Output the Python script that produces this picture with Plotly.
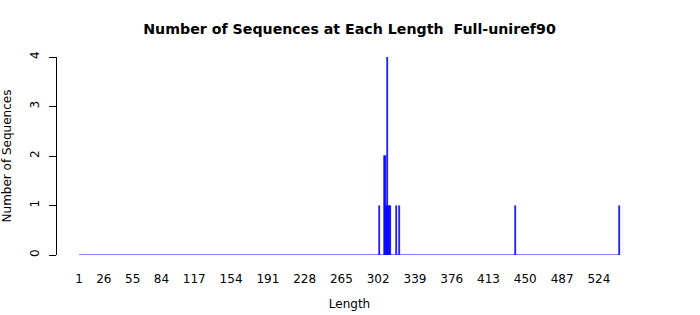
import plotly.graph_objects as go

# Data
lengths = [303, 308, 309, 310, 311, 312, 313, 314, 320, 323, 440, 545]
counts = [1, 2, 2, 1, 4, 1, 1, 1, 1, 1, 1, 1]
min_length = 1
tick_labels = [1, 26, 55, 84, 117, 154, 191, 228, 265, 302, 339, 376, 413, 450, 487, 524]
y_ticks = [0, 1, 2, 3, 4]

blue = "#0000FF"
font = "DejaVu Sans"

fig = go.Figure()
fig.add_trace(go.Scatter(
    x=[min_length, max(lengths)], y=[0, 0], mode="lines",
    line=dict(color=blue, width=1.2), hoverinfo="skip", showlegend=False,
))
fig.add_trace(go.Bar(
    x=lengths, y=counts, width=0.9,
    marker=dict(color=blue, line=dict(color=blue, width=0.6)),
    showlegend=False,
))

fig.update_layout(
    width=700, height=315,
    margin=dict(l=57, r=58, t=57, b=60),
    paper_bgcolor="white", plot_bgcolor="white",
    font=dict(family=font, size=12, color="black"),
    title=dict(text="<b>Number of Sequences at Each Length  Full-uniref90</b>",
               x=0.5, xref="paper", xanchor="center", y=1 - 29 / 315, yanchor="middle",
               font=dict(family=font, size=14.2, color="black")),
    bargap=0,
)
fig.update_xaxes(
    range=[-21.1, 567.4], tickmode="array", tickvals=tick_labels,
    ticktext=[str(t) for t in tick_labels],
    ticks="outside", ticklen=13, tickcolor="rgba(0,0,0,0)",
    showline=False, showgrid=False, zeroline=False, automargin=False,
    title=dict(text="Length", standoff=14, font=dict(size=12)),
    tickfont=dict(size=12),
)
fig.update_yaxes(
    range=[0, 4], tickmode="array", tickvals=y_ticks,
    ticks="outside", ticklen=7, tickcolor="black", tickangle=-90,
    ticklabelstandoff=5,
    showline=True, linecolor="black", linewidth=1,
    showgrid=False, zeroline=False, automargin=False,
    title=dict(text="Number of Sequences", standoff=14, font=dict(size=12)),
    tickfont=dict(size=12),
)

fig.write_html("out.html")
